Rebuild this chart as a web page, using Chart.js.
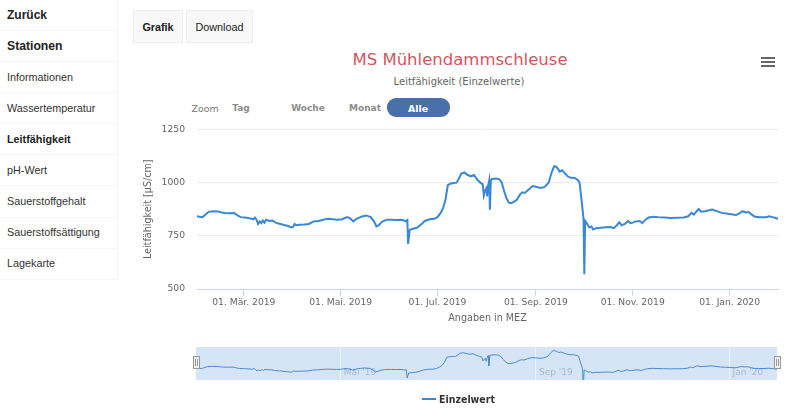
<!DOCTYPE html>
<html>
<head>
<meta charset="utf-8">
<script src="https://cdn.jsdelivr.net/npm/chart.js@4"></script>
<style>
  body { margin: 0; width: 799px; height: 414px; background: #fff; position: relative; overflow: hidden; font-family: "Liberation Sans", Arial, sans-serif; }
  .side { position: absolute; left: 0; top: 0; width: 117px; height: 280px; border-right: 1px solid #f5f5f5; }
  .side div { position: absolute; left: 7px; font-size: 10.8px; color: #333; line-height: 14px; margin-top: -7px; }
  .side .b { font-weight: bold; color: #222; }
  .side hr { position: absolute; left: 0; width: 117px; margin: 0; border: 0; border-top: 1px solid #f4f4f4; }
  .btn { position: absolute; top: 10px; height: 33px; line-height: 33px; background: #f8f8f8; border: 1px solid #eeeeee; box-sizing: border-box; font-size: 10.8px; color: #222; text-align: center; }
  .t { position: absolute; font-family: "DejaVu Sans", sans-serif; white-space: nowrap; transform: translate(-50%, -50%); }
  canvas { position: absolute; }
</style>
</head>
<body>
<div class="side">
  <div class="b" style="top:15px;font-size:12px">Zurück</div>
  <hr style="top:30px">
  <div class="b" style="top:46px;font-size:12.2px">Stationen</div>
  <hr style="top:61px">
  <div style="top:77px">Informationen</div>
  <hr style="top:92px">
  <div style="top:108px">Wassertemperatur</div>
  <hr style="top:123px">
  <div class="b" style="top:139px">Leitfähigkeit</div>
  <hr style="top:154px">
  <div style="top:170px">pH-Wert</div>
  <hr style="top:185px">
  <div style="top:201px">Sauerstoffgehalt</div>
  <hr style="top:217px">
  <div style="top:232px">Sauerstoffsättigung</div>
  <hr style="top:248px">
  <div style="top:263px">Lagekarte</div>
  <hr style="top:279px">
</div>
<div class="btn" style="left:133px;width:50px;font-weight:bold">Grafik</div>
<div class="btn" style="left:186px;width:67px">Download</div>

<div class="t" style="left:460px;top:59px;font-size:16.5px;color:#d5555f">MS Mühlendammschleuse</div>
<div class="t" style="left:459px;top:81px;font-size:10px;color:#666">Leitfähigkeit (Einzelwerte)</div>
<div style="position:absolute;left:761px;top:57px;width:14px">
  <div style="height:2px;background:#666;margin-bottom:2px"></div>
  <div style="height:2px;background:#666;margin-bottom:2px"></div>
  <div style="height:2px;background:#666"></div>
</div>

<div class="t" style="left:205px;top:108px;font-size:9.4px;color:#777">Zoom</div>
<div class="t" style="left:241px;top:108px;font-size:9px;color:#8c8c8c;font-weight:bold">Tag</div>
<div class="t" style="left:308px;top:108px;font-size:9px;color:#8c8c8c;font-weight:bold">Woche</div>
<div class="t" style="left:365px;top:108px;font-size:9px;color:#8c8c8c;font-weight:bold">Monat</div>
<div style="position:absolute;left:387px;top:98px;width:63px;height:19px;border-radius:9px;background:#4a70aa"></div>
<div class="t" style="left:418px;top:108px;font-size:9.4px;color:#fff;font-weight:bold">Alle</div>

<canvas id="main" width="669" height="230" style="left:130px;top:112px"></canvas>
<canvas id="nav" width="619" height="50" style="left:180px;top:340px"></canvas>

<div style="position:absolute;left:422px;top:398px;width:14px;height:2px;background:#3a87d6"></div>
<div class="t" style="left:467px;top:399px;font-family:'DejaVu Sans Condensed','DejaVu Sans',sans-serif;font-size:10.5px;font-weight:bold;color:#333">Einzelwert</div>

<script>
// days counted from 01.01.2019
const days = [
  29.5, 31, 33, 35, 37, 40, 43, 45, 47, 50, 53, 55, 57, 60, 63, 65, 66, 67, 68, 69,
  70, 71, 72, 73, 75, 77, 79, 82, 85, 87, 89, 90, 91, 92, 94, 97, 100, 103, 106, 109,
  112, 115, 118, 121, 124, 126, 128, 130, 133, 136, 139, 141, 142.5, 144, 146, 149, 152, 155, 158, 160,
  161, 162, 162.5, 163.5, 165, 168, 171, 173, 176, 179, 181, 183, 184.5, 186, 187.5, 189, 191, 193, 194.5, 196,
  198, 200, 202, 204, 206, 208, 209.5, 210.2, 211, 211.8, 212.3, 213, 213.6, 214, 214.6, 215.3, 218, 220, 221.5, 223,
  224.5, 226, 227.5, 229.5, 231, 233, 234.5, 236, 238.5, 241, 243.5, 246, 248.5, 251, 253, 254.5, 256, 258, 259.5, 261,
  263, 265, 267.5, 269.5, 270.5, 272, 273, 273.5, 274, 275, 276.5, 278, 279, 281, 284, 287, 290, 292, 294, 295.5,
  297, 299, 301, 302.5, 304, 306, 308.5, 310, 312, 314, 317, 320, 324, 328, 332, 336, 339, 341, 342.5, 344,
  345.5, 347, 349.5, 352, 354, 357, 360, 363, 366, 369, 371, 373, 375, 377, 379, 381, 384, 388, 390, 392,
  394, 395.5
];
const values = [
  842, 840, 838, 852, 864, 866, 865, 860, 857, 856, 857, 846, 838, 836, 832, 828, 836, 826, 806, 818,
  810, 822, 812, 826, 820, 822, 812, 806, 800, 796, 790, 792, 806, 800, 802, 803, 806, 818, 820, 826,
  830, 828, 826, 828, 838, 832, 818, 830, 840, 846, 838, 818, 794, 800, 816, 826, 826, 824, 826, 822,
  818, 824, 712, 778, 782, 788, 806, 820, 828, 830, 838, 858, 880, 920, 988, 995, 998, 1000, 1020, 1043,
  1048, 1036, 1030, 1036, 1015, 1000, 992, 940, 962, 974, 935, 990, 1012, 873, 1008, 1018, 1020, 1016, 1000, 960,
  925, 906, 904, 912, 920, 945, 955, 952, 968, 984, 980, 975, 980, 1000, 1050, 1077, 1074, 1052, 1058, 1046,
  1030, 1023, 1022, 1012, 1000, 900, 830, 569, 820, 810, 790, 794, 780, 786, 788, 790, 791, 786, 800, 814,
  800, 806, 820, 810, 812, 818, 820, 810, 826, 836, 840, 838, 836, 834, 835, 836, 842, 858, 850, 864,
  876, 864, 866, 870, 874, 866, 858, 855, 852, 848, 854, 866, 860, 862, 850, 840, 838, 838, 842, 838,
  834, 830
];
const xTickDays = [59, 120, 181, 243, 304, 365];
const xTickLabels = ['01. Mär. 2019', '01. Mai. 2019', '01. Jul. 2019', '01. Sep. 2019', '01. Nov. 2019', '01. Jan. 2020'];
const yTicks = [500, 750, 1000, 1250];
const navTickDays = [120, 243, 365];
const navTickLabels = ["Mai '19", "Sep '19", "Jan '20"];

const lineColor = '#3a87d6';
const points = days.map((d, i) => ({ x: d, y: values[i] }));

new Chart(document.getElementById('main'), {
  type: 'line',
  data: {
    datasets: [{
      label: 'Einzelwert',
      data: points,
      borderColor: lineColor,
      borderWidth: 2,
      pointRadius: 0,
      tension: 0
    }]
  },
  options: {
    responsive: false,
    animation: false,
    layout: { padding: { left: 0, right: 21, top: 15, bottom: 8 } },
    plugins: { legend: { display: false }, tooltip: { enabled: false } },
    scales: {
      x: {
        type: 'linear',
        min: 29.5,
        max: 395.5,
        afterBuildTicks: s => { s.ticks = xTickDays.map(v => ({ value: v })); },
        afterFit: s => { s.height = 45; },
        ticks: {
          callback: (v, i) => xTickLabels[i],
          font: { family: 'DejaVu Sans', size: 9.2 },
          color: '#666',
          padding: 1,
          maxRotation: 0,
          autoSkip: false
        },
        grid: { drawOnChartArea: false, drawTicks: true, tickLength: 7, color: '#ccd6eb' },
        border: { color: '#ccd6eb' },
        title: {
          display: true,
          text: 'Angaben in MEZ',
          font: { family: 'DejaVu Sans', size: 9.6 },
          color: '#666',
          padding: { top: 0, bottom: 10 }
        }
      },
      y: {
        min: 500,
        max: 1250,
        afterBuildTicks: s => { s.ticks = yTicks.map(v => ({ value: v })); },
        afterFit: s => { s.width = 67; },
        ticks: {
          callback: v => String(v),
          font: { family: 'DejaVu Sans', size: 9.2 },
          color: '#666',
          padding: 12
        },
        grid: { drawTicks: false, color: '#ececec' },
        border: { display: false },
        title: {
          display: true,
          text: 'Leitfähigkeit [µS/cm]',
          font: { family: 'DejaVu Sans', size: 9.6 },
          color: '#666',
          padding: { top: 13, bottom: 0 }
        }
      }
    }
  }
});

// navigator: background, grid lines, labels and handles drawn on the library's scales
const navDecor = {
  id: 'navDecor',
  beforeDatasetsDraw(chart) {
    const { ctx, chartArea: a, scales: { x } } = chart;
    ctx.save();
    ctx.fillStyle = '#d5e5f7';
    ctx.fillRect(a.left, a.top, a.right - a.left, a.bottom - a.top);
    ctx.strokeStyle = 'rgba(255,255,255,0.5)';
    ctx.lineWidth = 1;
    navTickDays.forEach(d => {
      const px = Math.round(x.getPixelForValue(d)) + 0.5;
      ctx.beginPath(); ctx.moveTo(px, a.top); ctx.lineTo(px, a.bottom); ctx.stroke();
    });
    ctx.fillStyle = '#a9b8cc';
    ctx.font = '9px "DejaVu Sans"';
    ctx.textBaseline = 'middle';
    navTickDays.forEach((d, i) => {
      ctx.fillText(navTickLabels[i], x.getPixelForValue(d) + 4, a.bottom - 7);
    });
    ctx.restore();
  },
  afterDraw(chart) {
    const { ctx, chartArea: a } = chart;
    ctx.save();
    [a.left, a.right].forEach(px => {
      const cx = Math.round(px) + 0.5;
      ctx.fillStyle = '#f2f2f2';
      ctx.strokeStyle = '#999';
      ctx.lineWidth = 1;
      ctx.fillRect(cx - 3, 356.5 - 340, 6, 12);
      ctx.strokeRect(cx - 3, 356.5 - 340, 6, 12);
      ctx.beginPath();
      ctx.moveTo(cx - 1, 359 - 340); ctx.lineTo(cx - 1, 366 - 340);
      ctx.moveTo(cx + 1, 359 - 340); ctx.lineTo(cx + 1, 366 - 340);
      ctx.stroke();
    });
    ctx.restore();
  }
};

new Chart(document.getElementById('nav'), {
  type: 'line',
  data: {
    datasets: [{
      data: points,
      borderColor: '#4a8bd0',
      borderWidth: 1,
      pointRadius: 0,
      tension: 0
    }]
  },
  options: {
    responsive: false,
    animation: false,
    layout: { padding: { left: 16, right: 22, top: 7, bottom: 10 } },
    plugins: { legend: { display: false }, tooltip: { enabled: false } },
    scales: {
      x: { type: 'linear', min: 29.5, max: 395.5, display: false },
      y: { min: 685, max: 1125, display: false }
    }
  },
  plugins: [navDecor]
});
</script>
</body>
</html>
